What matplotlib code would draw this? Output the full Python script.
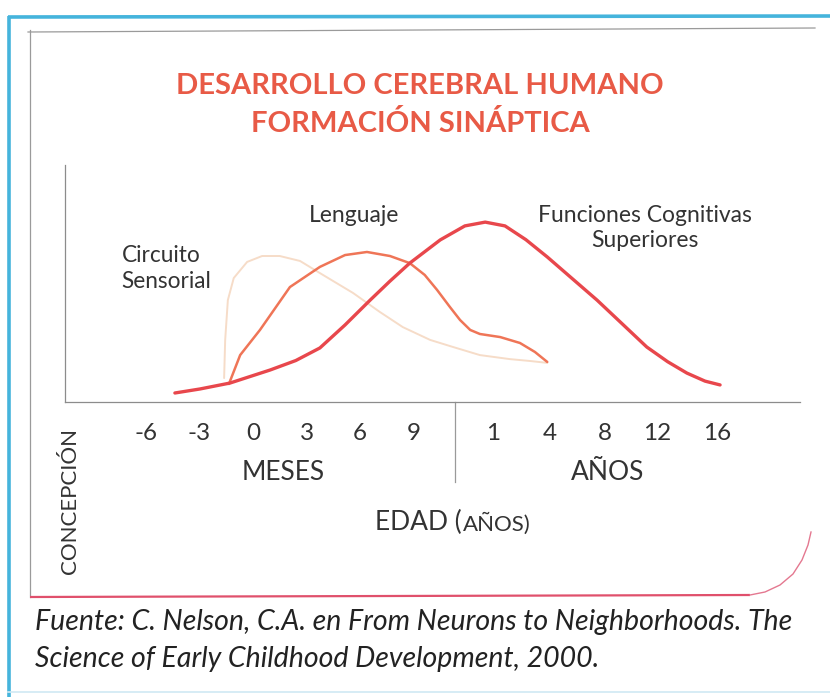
import matplotlib

matplotlib.use("Agg")

import matplotlib.pyplot as plt
import matplotlib.transforms as mtransforms

plt.rcParams["font.family"] = ["Lato", "DejaVu Sans"]

# ── Data (x in axis "slots": -6 months = 0, one month-tick = 1) ──
tick_pos = [0, 1, 2, 3, 4, 5, 6.49, 7.55, 8.58, 9.55, 10.67]
tick_labels = ["-6", "-3", "0", "3", "6", "9", "1", "4", "8", "12", "16"]
split_pos = 5.78  # boundary months | years

cognitive_x = [0.54, 1.01, 1.57, 2.32, 2.80, 3.25, 3.72, 4.19, 4.56, 4.93, 5.50,
               5.96, 6.34, 6.71, 7.10, 7.50, 7.97, 8.43, 8.90, 9.36, 9.75, 10.11, 10.45, 10.73]
cognitive_y = [3.8, 5.5, 8.0, 13.5, 17.5, 22.8, 32.5, 43.0, 51.0, 58.6, 68.4,
               74.3, 75.9, 74.3, 68.5, 61.2, 52.0, 43.0, 33.0, 23.2, 17.0, 12.2, 8.8, 7.2]

language_x = [1.55, 1.76, 2.13, 2.69, 3.25, 3.72, 4.13, 4.56, 4.93, 5.21, 5.44,
              5.68, 5.87, 6.06, 6.24, 6.62, 6.99, 7.27, 7.50]
language_y = [7.6, 19.8, 30.4, 48.5, 57.0, 62.0, 63.3, 61.6, 58.6, 53.6, 47.3,
              40.1, 34.6, 30.4, 28.7, 27.4, 24.9, 21.1, 16.9]

sensory_x = [1.46, 1.48, 1.53, 1.64, 1.89, 2.17, 2.50, 2.88, 3.25, 3.87, 4.37,
             4.80, 5.31, 5.74, 6.24, 6.80, 7.18, 7.50]
sensory_y = [10.1, 26.2, 43.0, 52.3, 59.1, 61.6, 61.6, 59.5, 54.4, 46.0, 38.0,
             31.6, 26.2, 23.2, 19.8, 18.1, 17.3, 16.5]

W, H = 830, 697
fig = plt.figure(figsize=(W / 100, H / 100), dpi=100)
fig.patch.set_facecolor("white")

# ── Decoration layer in pixel coordinates ─────────────────────
deco = fig.add_axes([0, 0, 1, 1])
deco.set_xlim(0, W)
deco.set_ylim(H, 0)
deco.axis("off")

blue = "#45b4dc"
deco.plot([8, W], [17, 16], color=blue, lw=2.6, solid_capstyle="butt")
deco.plot([9, 9], [16, H], color=blue, lw=2.6, solid_capstyle="butt")
deco.plot([8, W], [692, 692], color="#cfe9f3", lw=1.2)
deco.plot([28, 815], [32, 28], color="#9a9a9a", lw=0.9)
deco.plot([30, 30], [30, 597], color="#9a9a9a", lw=0.9)
deco.plot([30, 750], [597, 595], color="#e0506c", lw=1.6, solid_capstyle="butt")
deco.plot([750, 765, 780, 793, 802, 808, 811], [595, 592, 585, 574, 560, 545, 532],
          color="#e47890", lw=1.0, solid_joinstyle="round")

title_color = "#e85a46"
deco.text(420, 86, "DESARROLLO CEREBRAL HUMANO", ha="center", va="center",
          fontsize=21, fontweight="bold", color=title_color)
deco.text(420, 123, "FORMACIÓN SINÁPTICA", ha="center", va="center",
          fontsize=21, fontweight="bold", color=title_color)

txt = "#333333"
deco.text(283, 472, "MESES", ha="center", va="center", fontsize=19, color=txt)
deco.text(608, 472, "AÑOS", ha="center", va="center", fontsize=19, color=txt)
deco.text(462, 522, "EDAD (", ha="right", va="center", fontsize=19, color=txt)
deco.text(463, 524, "AÑOS)", ha="left", va="center", fontsize=16, color=txt)
deco.text(70, 501, "CONCEPCIÓN", ha="center", va="center", rotation=90,
          fontsize=16, color=txt)

deco.text(35, 622, "Fuente: C. Nelson, C.A. en From Neurons to Neighborhoods. The",
          ha="left", va="center", fontsize=20.5, style="italic", color="#222222")
deco.text(35, 659, "Science of Early Childhood Development, 2000.",
          ha="left", va="center", fontsize=20.5, style="italic", color="#222222")

# ── Chart axes ────────────────────────────────────────────────
ax = fig.add_axes([65 / W, 1 - 402 / H, (800 - 65) / W, (402 - 165) / H])
ax.set_facecolor("none")
ax.set_xlim(-1.514, 12.224)
ax.set_ylim(0, 100)

for side in ("top", "right"):
    ax.spines[side].set_visible(False)
for side in ("left", "bottom"):
    ax.spines[side].set_color("#8c8c8c")
    ax.spines[side].set_linewidth(0.9)

ax.set_yticks([])
ax.set_xticks(tick_pos)
ax.set_xticklabels(tick_labels, fontsize=17.5, color=txt)
ax.tick_params(axis="x", length=0, pad=15)

trans = mtransforms.blended_transform_factory(ax.transData, ax.transAxes)
ax.plot([split_pos, split_pos], [0, -0.338], transform=trans, color="#9a9a9a",
        lw=0.9, clip_on=False)

ax.plot(sensory_x, sensory_y, color="#f6dcc8", lw=1.4, solid_joinstyle="round",
        solid_capstyle="round")
ax.plot(language_x, language_y, color="#ef7557", lw=1.8, solid_joinstyle="round",
        solid_capstyle="round")
ax.plot(cognitive_x, cognitive_y, color="#e8474c", lw=2.4, solid_joinstyle="round",
        solid_capstyle="round")

# Curve labels
ax.text(3.89, 78.5, "Lenguaje", ha="center", va="center", fontsize=16.5, color=txt)
ax.text(-0.46, 56.5, "Circuito\nSensorial", ha="left", va="center", fontsize=16.3,
        color=txt, linespacing=1.3)
ax.text(9.32, 73.5, "Funciones Cognitivas\nSuperiores", ha="center", va="center",
        fontsize=16.5, color=txt, linespacing=1.25)

fig.savefig("out.png", dpi=100, facecolor=fig.get_facecolor())
plt.close(fig)
